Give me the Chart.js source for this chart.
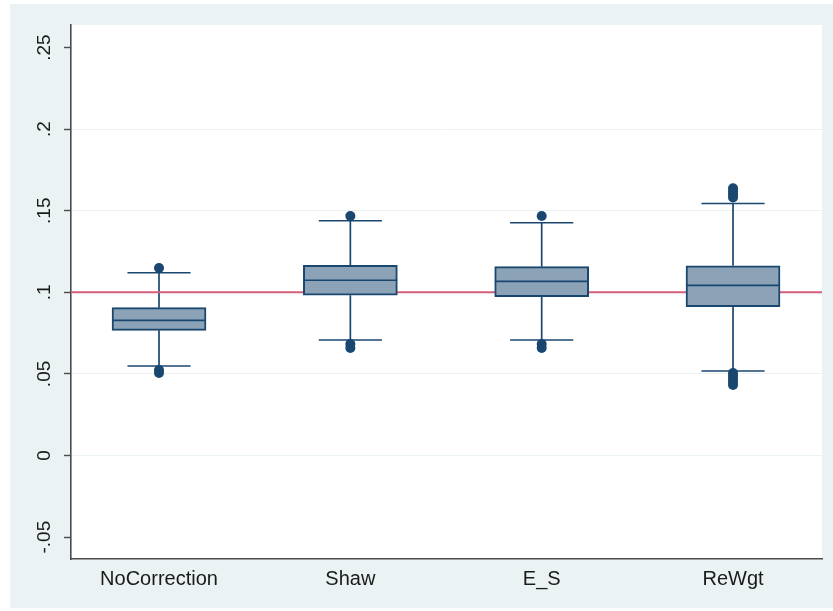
<!DOCTYPE html>
<html><head><meta charset="utf-8">
<script src="https://cdn.jsdelivr.net/npm/chart.js@4.4.1/dist/chart.umd.min.js"></script>
<style>
html,body{margin:0;padding:0;background:#fff;}
#wrap{position:absolute;left:10px;top:4px;width:823px;height:604px;background:#eaf2f3;}
canvas{display:block;}
</style></head><body>
<div id="wrap"><canvas id="c" width="823" height="604"></canvas></div>
<script>
// ---- data ----
const categories = ["NoCorrection", "Shaw", "E_S", "ReWgt"];
const q1 = [0.0767, 0.0982, 0.0973, 0.0912];
const median = [0.0828, 0.1074, 0.1067, 0.1043];
const q3 = [0.0906, 0.1165, 0.1157, 0.1163];
const whiskerLow = [0.0548, 0.0708, 0.0708, 0.0518];
const whiskerHigh = [0.1120, 0.1439, 0.1426, 0.1545];
const outliersNoCorrection = [0.1149, 0.0524, 0.0506];
const outliersShaw = [0.1468, 0.0683, 0.0659];
const outliersES = [0.1468, 0.0683, 0.0659];
const outliersReWgt = [0.1637, 0.1618, 0.1600, 0.1581, 0.0506, 0.0487, 0.0469, 0.0450, 0.0432];
const refLine = 0.1;
const yTickValues = [-0.05, 0, 0.05, 0.1, 0.15, 0.2, 0.25];
const yTickLabels = ["-.05", "0", ".05", ".1", ".15", ".2", ".25"];

// ---- styling / layout ----
const NAVY = '#1a476f';
const BOX_FILL = '#8ca3b7';
const REF_COLOR = '#d45f7b';
const X_MIN = 0.54, X_MAX = 4.465;
const BOX_HALF = 0.245, CAP_HALF = 0.165;
const outliers = [outliersNoCorrection, outliersShaw, outliersES, outliersReWgt];

const datasets = [];
datasets.push({
  type: 'bar',
  data: categories.map((c, i) => ({x: i + 1, y: [q1[i], q3[i]]})),
  backgroundColor: BOX_FILL, borderColor: NAVY, borderWidth: 2,
  borderSkipped: false, barThickness: 94, order: 1
});
function seg(points, width, order) {
  datasets.push({type: 'line', data: points, borderColor: NAVY, borderWidth: width,
    pointRadius: 0, fill: false, order: order});
}
categories.forEach((c, i) => {
  const x = i + 1;
  seg([{x, y: q3[i]}, {x, y: whiskerHigh[i]}], 1.7, 3);
  seg([{x, y: q1[i]}, {x, y: whiskerLow[i]}], 1.7, 3);
  seg([{x: x - CAP_HALF, y: whiskerHigh[i]}, {x: x + CAP_HALF, y: whiskerHigh[i]}], 1.5, 3);
  seg([{x: x - CAP_HALF, y: whiskerLow[i]}, {x: x + CAP_HALF, y: whiskerLow[i]}], 1.5, 3);
  seg([{x: x - BOX_HALF, y: median[i]}, {x: x + BOX_HALF, y: median[i]}], 1.7, 0);
  datasets.push({type: 'scatter', data: outliers[i].map(v => ({x, y: v})),
    pointRadius: 5, pointBackgroundColor: NAVY, pointBorderWidth: 0, order: 0});
});
datasets.push({type: 'line', data: [{x: X_MIN, y: refLine}, {x: X_MAX, y: refLine}],
  borderColor: REF_COLOR, borderWidth: 2, pointRadius: 0, fill: false, order: 2});

const plotBg = {
  id: 'plotBg',
  beforeDraw(chart) {
    const {ctx, chartArea: a} = chart;
    ctx.save(); ctx.fillStyle = '#ffffff';
    ctx.fillRect(a.left, a.top, a.right - a.left, a.bottom - a.top);
    ctx.restore();
  }
};

new Chart(document.getElementById('c'), {
  type: 'scatter',
  data: {datasets},
  plugins: [plotBg],
  options: {
    responsive: false, animation: false, devicePixelRatio: 1,
    layout: {padding: {top: 21, right: 11, left: 0, bottom: 0}},
    plugins: {legend: {display: false}, tooltip: {enabled: false}},
    scales: {
      x: {
        type: 'linear', min: X_MIN, max: X_MAX, offset: false,
        grid: {display: false, offset: false, drawTicks: false},
        border: {display: true, color: '#4a4a4a', width: 1.6},
        ticks: {
          stepSize: 1, includeBounds: false, autoSkip: false, maxRotation: 0, padding: 8,
          color: '#1a1a1a', font: {family: 'Liberation Sans, Arial, sans-serif', size: 20},
          callback: v => (Number.isInteger(v) && categories[v - 1]) ? categories[v - 1] : ''
        },
        afterFit(s) { s.height = 49; }
      },
      y: {
        type: 'linear', min: -0.0634, max: 0.2638, beginAtZero: false,
        grid: {
          color: ctx => (Math.abs(ctx.tick.value - yTickValues[0]) < 1e-9 ||
                         Math.abs(ctx.tick.value - yTickValues[yTickValues.length - 1]) < 1e-9)
                         ? 'rgba(0,0,0,0)' : '#eaf2f3',
          lineWidth: 1, tickColor: '#4a4a4a', tickLength: 7, tickWidth: 1.4
        },
        border: {display: true, color: '#4a4a4a', width: 1.6},
        ticks: {
          stepSize: 0.05, includeBounds: false, minRotation: 90, maxRotation: 90,
          crossAlign: 'center', padding: 3,
          color: '#1a1a1a', font: {family: 'Liberation Sans, Arial, sans-serif', size: 19},
          callback: v => {
            const k = yTickValues.findIndex(t => Math.abs(t - v) < 1e-9);
            return k >= 0 ? yTickLabels[k] : '';
          }
        },
        afterFit(s) { s.width = 61; }
      }
    }
  }
});
</script>
</body></html>
